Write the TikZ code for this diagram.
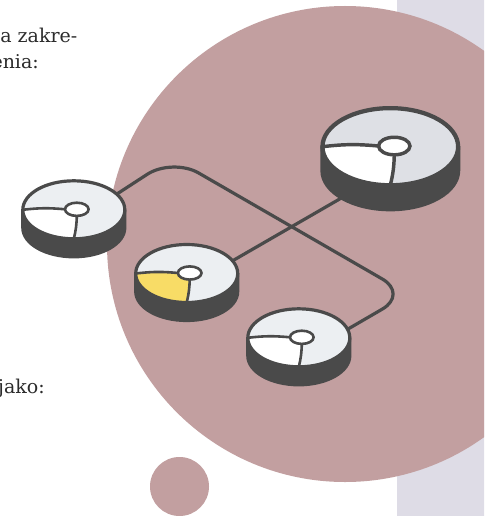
\documentclass[tikz,border=0pt]{standalone}
\usepackage{fontspec}
\setmainfont{DejaVu Serif}
\usepackage{tikz}
\definecolor{rose}{HTML}{C29FA0}
\definecolor{stripc}{HTML}{DEDCE6}
\definecolor{dk}{HTML}{4A4A4A}
\definecolor{topl}{HTML}{ECEFF2}
\definecolor{topd}{HTML}{DEE0E5}
\definecolor{yel}{HTML}{F8DC66}
\definecolor{txt}{HTML}{2B2B2B}
\tikzset{
  conn/.style={draw=dk, line width=3.2pt, line cap=round},
  txtstyle/.style={anchor=base east, inner sep=0pt, text=txt, font=\fontsize{19}{24}\selectfont},
}
\newcommand\mydisk[6]{%
 \begin{scope}
 \pgfmathsetmacro\dkrx{51*#4}
 \pgfmathsetmacro\dkry{29*#4}
 \pgfmathsetmacro\dktk{18*#4}
 \pgfmathsetmacro\dkhx{#2+3*#4}
 \pgfmathsetmacro\dkhy{#3-0.5*#4}
 \pgfmathsetmacro\dkhrx{11.8*#4}
 \pgfmathsetmacro\dkhry{6.6*#4}
 \pgfmathsetmacro\dklw{3.2*#4}
 \pgfmathsetmacro\dklwi{2.6*#4}
 \coordinate (#1) at (#2,#3);
 \coordinate (#1-w) at ({#2-\dkrx},#3);
 \coordinate (#1-e) at ({#2+\dkrx},#3);
 \coordinate (#1-s) at (#2,{#3+\dkry});
 \coordinate (#1-bw) at ({#2-\dkrx},{#3+\dktk});
 \coordinate (#1-h) at (\dkhx,\dkhy);
 \coordinate (#1-hw) at ({\dkhx-\dkhrx},\dkhy);
 \coordinate (#1-hs) at (\dkhx,{\dkhy+\dkhry});
 \filldraw[fill=dk, draw=dk, line width=\dklw pt, line join=round] (#1-w) -- (#1-bw)
   arc[start angle=180,end angle=360,x radius=\dkrx pt,y radius=\dkry pt] -- (#1-e) -- cycle;
 \fill[#5] (#1) ellipse[x radius=\dkrx pt,y radius=\dkry pt];
 \fill[#6] (#1-hw) to[bend right=6] (#1-w)
   arc[start angle=180,end angle=270,x radius=\dkrx pt,y radius=\dkry pt]
   to[bend right=6] (#1-hs)
   arc[start angle=270,end angle=180,x radius=\dkhrx pt,y radius=\dkhry pt] -- cycle;
 \draw[dk, line width=\dklwi pt] (#1-hw) to[bend right=6] (#1-w);
 \draw[dk, line width=\dklwi pt] (#1-hs) to[bend left=6] (#1-s);
 \draw[dk, line width=\dklw pt] (#1) ellipse[x radius=\dkrx pt,y radius=\dkry pt];
 \filldraw[fill=white, draw=dk, line width=\dklwi pt] (#1-h) ellipse[x radius=\dkhrx pt,y radius=\dkhry pt];
 \end{scope}
}
\begin{document}
\begin{tikzpicture}[x=1pt,y=-1pt]
\useasboundingbox (0,0) rectangle (484,516);
\clip (0,0) rectangle (484,516);
% background
\fill[stripc] (397,-5) rectangle (490,520);
\fill[rose] (345,244) circle[radius=238pt];
\fill[rose] (179.5,486.5) circle[radius=29.5pt];
% texts
\node[txtstyle] (t1) at (77.5,42.5) {a zakre-};
\node[txtstyle] (t2) at (39,69) {enia:};
\node[txtstyle] (t3) at (45,393) {jako:};
% connector coordinates
\coordinate (a1) at (100,205);
\coordinate (v1) at (172.5,157.9);
\coordinate (v2) at (408.3,294);
\coordinate (a4) at (320,345.3);
\coordinate (a2) at (200,279.6);
\coordinate (a3) at (380,175.7);
\draw[conn, rounded corners=30pt] (a1) -- (v1) -- (v2) -- (a4);
\draw[conn] (a2) -- (a3);
% disks
\mydisk{D1}{73.8}{209.8}{1}{topl}{white}
\mydisk{D2}{186.7}{273.5}{1}{topl}{yel}
\mydisk{D3}{390.3}{146.7}{1.33}{topd}{white}
\mydisk{D4}{298.8}{337.8}{1}{topl}{white}
\end{tikzpicture}
\end{document}
